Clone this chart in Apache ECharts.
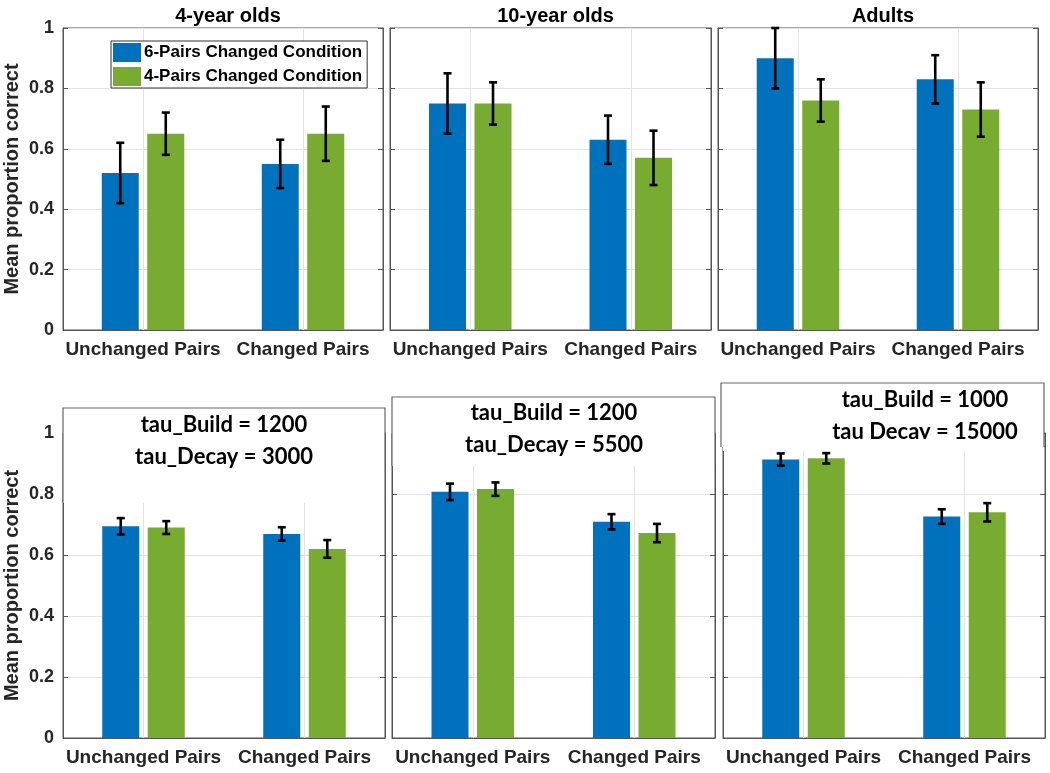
<!DOCTYPE html>
<html>
<head>
<meta charset="utf-8">
<script src="https://cdn.jsdelivr.net/npm/echarts@6/dist/echarts.min.js"></script>
<style>
  html, body { margin: 0; padding: 0; background: #fff; }
  #chart { width: 1050px; height: 773px; }
</style>
</head>
<body>
<div id="chart"></div>
<script>
// ---------- data ----------
const categories = ['Unchanged Pairs', 'Changed Pairs'];
const groupTitles = ['4-year olds', '10-year olds', 'Adults'];
const legendNames = ['6-Pairs Changed Condition', '4-Pairs Changed Condition'];
const yAxisName = 'Mean proportion correct';

// top row: observed data (per group: [Unchanged, Changed])
const dataMean6 = [[0.52, 0.55], [0.75, 0.63], [0.90, 0.83]];
const dataErr6  = [[0.10, 0.08], [0.10, 0.08], [0.10, 0.08]];
const dataMean4 = [[0.65, 0.65], [0.75, 0.57], [0.76, 0.73]];
const dataErr4  = [[0.07, 0.09], [0.07, 0.09], [0.07, 0.09]];

// bottom row: model results
const modelMean6 = [[0.694, 0.669], [0.807, 0.709], [0.913, 0.726]];
const modelErr6  = [[0.027, 0.022], [0.027, 0.025], [0.020, 0.024]];
const modelMean4 = [[0.690, 0.620], [0.816, 0.672], [0.917, 0.740]];
const modelErr4  = [[0.021, 0.029], [0.022, 0.030], [0.017, 0.030]];
const modelParams = [
  ['tau_Build = 1200', 'tau_Decay = 3000'],
  ['tau_Build = 1200', 'tau_Decay = 5500'],
  ['tau_Build = 1000', 'tau Decay = 15000']
];

// ---------- layout / style ----------
const BLUE = '#0072BD', GREEN = '#77AC30';
const FRAME = '#555555', GRIDC = '#e3e3e3';
const FONT = "'Liberation Sans', Arial, sans-serif";
const BAR_W = 37, BAR_GAP = 0.23;

const panels = [
  { left: 63,  top: 28,  width: 320, height: 302 },
  { left: 390, top: 28,  width: 321, height: 302 },
  { left: 718, top: 28,  width: 320, height: 302 },
  { left: 63,  top: 433, width: 322, height: 305 },
  { left: 392, top: 433, width: 323, height: 305 },
  { left: 723, top: 433, width: 322, height: 305 }
];
// annotation boxes for model panels
const boxes = [
  { x0: 63,  x1: 385,  y0: 408, y1: 503, cx: 224, t1: 425, t2: 457 },
  { x0: 392, x1: 715,  y0: 397, y1: 466, cx: 554, t1: 413, t2: 445 },
  { x0: 721, x1: 1044, y0: 383, y1: 447, cx: 925, t1: 400, t2: 432, clip: 439 }
];

function makeErr(sign) {
  return function (params, api) {
    const cat = api.value(0), v = api.value(1), e = api.value(2);
    const off = sign * (BAR_W + BAR_W * BAR_GAP) / 2;
    const x = api.coord([cat, v])[0] + off;
    const yt = api.coord([cat, v + e])[1];
    const yb = api.coord([cat, v - e])[1];
    const st = { stroke: '#000', lineWidth: 2.6 };
    return {
      type: 'group',
      children: [
        { type: 'line', shape: { x1: x, y1: yt, x2: x, y2: yb }, style: st },
        { type: 'line', shape: { x1: x - 4, y1: yt, x2: x + 4, y2: yt }, style: st },
        { type: 'line', shape: { x1: x - 4, y1: yb, x2: x + 4, y2: yb }, style: st }
      ]
    };
  };
}

const grid = [], xAxis = [], yAxis = [], series = [], title = [], graphic = [];

panels.forEach((pn, p) => {
  const row = p < 3 ? 0 : 1, col = p % 3;
  grid.push({ left: pn.left, top: pn.top, width: pn.width, height: pn.height,
    show: true, borderColor: FRAME, borderWidth: 1, backgroundColor: 'transparent' });
  xAxis.push({
    type: 'category', gridIndex: p, data: categories, boundaryGap: true,
    axisLine: { show: true, lineStyle: { color: FRAME, width: 1 } },
    axisTick: { show: true, inside: true, alignWithLabel: true, length: 4, lineStyle: { color: FRAME } },
    axisLabel: { show: true, interval: 0, color: '#262626', fontFamily: FONT, fontWeight: 'bold', fontSize: 19, margin: 10 },
    splitLine: { show: false }
  });
  yAxis.push({
    type: 'value', gridIndex: p, min: 0, max: 1, interval: 0.2, position: 'left',
    name: col === 0 ? yAxisName : '', nameLocation: 'middle', nameGap: 41,
    nameTextStyle: { color: '#262626', fontFamily: FONT, fontWeight: 'bold', fontSize: 20 },
    axisLine: { show: true, lineStyle: { color: FRAME, width: 1 } },
    axisTick: { show: true, inside: true, length: 5, lineStyle: { color: FRAME } },
    axisLabel: { show: col === 0, color: '#262626', fontFamily: FONT, fontWeight: 'bold', fontSize: 18, margin: 9 },
    splitLine: { show: true, lineStyle: { color: GRIDC, width: 1 } }
  });
  yAxis.push({
    type: 'value', gridIndex: p, min: 0, max: 1, interval: 0.2, position: 'right',
    axisLine: { show: true, lineStyle: { color: FRAME, width: 1 } },
    axisTick: { show: true, inside: true, length: 5, lineStyle: { color: FRAME } },
    axisLabel: { show: false }, splitLine: { show: false }
  });

  const m6 = row === 0 ? dataMean6[col] : modelMean6[col];
  const e6 = row === 0 ? dataErr6[col] : modelErr6[col];
  const m4 = row === 0 ? dataMean4[col] : modelMean4[col];
  const e4 = row === 0 ? dataErr4[col] : modelErr4[col];

  series.push({
    name: legendNames[0], type: 'bar', xAxisIndex: p, yAxisIndex: 2 * p, z: 3,
    data: m6, barWidth: BAR_W, barGap: (BAR_GAP * 100) + '%',
    itemStyle: { color: BLUE }
  });
  series.push({
    name: legendNames[1], type: 'bar', xAxisIndex: p, yAxisIndex: 2 * p, z: 3,
    data: m4, barWidth: BAR_W, barGap: (BAR_GAP * 100) + '%',
    itemStyle: { color: GREEN }
  });
  series.push({
    type: 'custom', xAxisIndex: p, yAxisIndex: 2 * p, z: 5,
    renderItem: makeErr(-1), encode: { x: 0, y: 1 },
    data: m6.map((v, i) => [i, v, e6[i]])
  });
  series.push({
    type: 'custom', xAxisIndex: p, yAxisIndex: 2 * p, z: 5,
    renderItem: makeErr(1), encode: { x: 0, y: 1 },
    data: m4.map((v, i) => [i, v, e4[i]])
  });
  // vertical grid lines at category centres
  series.push({
    type: 'custom', xAxisIndex: p, yAxisIndex: 2 * p, z: 1,
    renderItem: () => null, data: [],
    markLine: {
      silent: true, symbol: 'none', label: { show: false }, z: 1,
      lineStyle: { color: GRIDC, type: 'solid', width: 1 },
      data: categories.map(c => ({ xAxis: c }))
    }
  });

  if (row === 0) {
    title.push({
      text: groupTitles[col], left: pn.left + pn.width / 2, top: 1, textAlign: 'center',
      textStyle: { color: '#000', fontFamily: FONT, fontWeight: 'bold', fontSize: 20 }
    });
  }
});

boxes.forEach((b, i) => {
  graphic.push({
    type: 'rect', z: 100, silent: true,
    shape: { x: b.x0, y: b.y0, width: b.x1 - b.x0, height: b.y1 - b.y0 },
    style: { fill: '#fff', stroke: null }
  });
  graphic.push({
    type: 'polyline', z: 101, silent: true,
    shape: { points: [[b.x0, b.y1], [b.x0, b.y0], [b.x1, b.y0], [b.x1, b.y1]] },
    style: { stroke: '#666', lineWidth: 1.2, fill: null }
  });
  graphic.push({
    type: 'text', z: 102, silent: true,
    style: { text: modelParams[i][0], x: b.cx, y: b.t1, align: 'center', verticalAlign: 'middle',
      fill: '#000', font: "bold 22px Lato, 'Open Sans', sans-serif" }
  });
  graphic.push({
    type: 'text', z: 102, silent: true,
    style: { text: modelParams[i][1], x: b.cx, y: b.t2, align: 'center', verticalAlign: 'middle',
      fill: '#000', font: "bold 22px Lato, 'Open Sans', sans-serif" }
  });
  if (b.clip) {
    graphic.push({
      type: 'rect', z: 103, silent: true,
      shape: { x: b.x0 + 2, y: b.clip, width: b.x1 - b.x0 - 3, height: 12 },
      style: { fill: '#fff' }
    });
  }
});

const chart = echarts.init(document.getElementById('chart'), null, { renderer: 'canvas' });
chart.setOption({
  animation: false,
  backgroundColor: '#fff',
  title, grid, xAxis, yAxis, series, graphic,
  legend: {
    data: legendNames, orient: 'vertical', left: 111, top: 41,
    itemWidth: 28, itemHeight: 19, itemGap: 5, selectedMode: false,
    padding: [2, 5, 2, 2], borderColor: '#333', borderWidth: 1, backgroundColor: '#fff',
    icon: 'rect',
    textStyle: { color: '#000', fontFamily: FONT, fontWeight: 'bold', fontSize: 17, padding: [0, 0, 0, -2] }
  }
});
</script>
</body>
</html>
